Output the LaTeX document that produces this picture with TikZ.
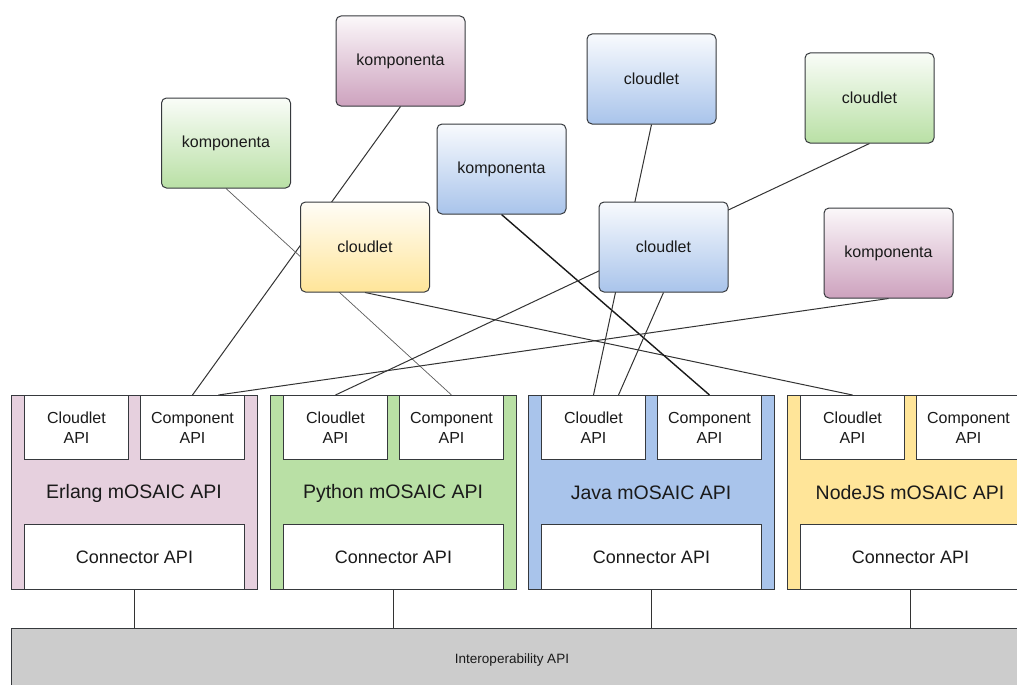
\documentclass[tikz,border=0pt]{standalone}
\usepackage{fontspec}
\setmainfont{Liberation Sans}
\usetikzlibrary{calc}
\pgfdeclarelayer{bg}
\pgfsetlayers{bg,main}
\definecolor{edge}{HTML}{36393D}
\definecolor{txt}{HTML}{1A1A1A}
\definecolor{erl}{HTML}{E6D0DE}
\definecolor{pyg}{HTML}{B9E0A5}
\definecolor{jav}{HTML}{A9C4EB}
\definecolor{njs}{HTML}{FFE599}
\definecolor{purp}{HTML}{CDA2BE}
\definecolor{iop}{HTML}{CCCCCC}
\definecolor{wire}{HTML}{333333}
\begin{document}
\begin{tikzpicture}[x=1pt,y=-1pt,
  topbox/.style={draw=edge, line width=1pt, rounded corners=5pt,
    minimum width=129pt, minimum height=90pt, inner sep=0pt,
    font=\fontsize{16}{19}\selectfont, text=txt,
    top color=#1!8, bottom color=#1},
  apibox/.style={draw=edge, fill=white, line width=1pt, anchor=north west,
    minimum width=104pt, minimum height=64pt, inner sep=0pt, align=center,
    font=\fontsize{16}{20}\selectfont, text=txt},
  connbox/.style={draw=edge, fill=white, line width=1pt, anchor=north west,
    minimum width=220pt, minimum height=65pt, inner sep=0pt,
    font=\fontsize{18}{21}\selectfont, text=txt},
  langbox/.style={draw=edge, fill=#1, line width=1pt, anchor=north west,
    minimum width=246pt, minimum height=194pt, inner sep=0pt},
  langlabel/.style={font=\fontsize{19.5}{23}\selectfont, text=txt, inner sep=0pt},
  wireline/.style={draw=wire, line width=1pt},
  thinwire/.style={draw=wire!80, line width=0.7pt},
  thickwire/.style={draw=black!90, line width=1.4pt}
]
\useasboundingbox (0,0) rectangle (1017,685);
\clip (0,0) rectangle (1017,685);

% interoperability layer
\node[draw=edge, fill=iop, line width=1pt, anchor=north west,
  minimum width=1040pt, minimum height=64pt, inner sep=0pt] (interop) at (11,628) {};
\node[font=\fontsize{13.5}{16}\selectfont, text=txt] (interoplabel) at (512,660) {Interoperability API};

% language stacks
\foreach \n/\L/\lang/\col in {e/11/Erlang/erl, p/270/Python/pyg, j/528/Java/jav, n/787/NodeJS/njs}{
  \node[langbox=\col] (\n-outer) at (\L,395) {};
  \node[apibox] (\n-cloud) at ({\L+13},395) {Cloudlet\\API};
  \node[apibox] (\n-comp) at ({\L+129},395) {Component\\API};
  \node[connbox] (\n-conn) at ({\L+13},524) {Connector API};
  \node[langlabel] (\n-label) at ({\L+123},493) {\lang{} mOSAIC API};
  \draw[wireline] (\n-conn.south) -- (\n-conn.south |- interop.north);
}

% top components and cloudlets
\node[topbox=pyg]  (kg)  at (226,143)   {komponenta};
\node[topbox=purp] (kp1) at (400.5,61)  {komponenta};
\node[topbox=njs]  (cy)  at (365,247)   {cloudlet};
\node[topbox=jav]  (kb)  at (501.5,169) {komponenta};
\node[topbox=jav]  (cb1) at (651.5,79)  {cloudlet};
\node[topbox=jav]  (cb2) at (663.5,247) {cloudlet};
\node[topbox=pyg]  (cg)  at (869.5,98)  {cloudlet};
\node[topbox=purp] (kp2) at (888.5,253) {komponenta};

\begin{pgfonlayer}{bg}
  \draw[wireline]  (kp1.south) -- (e-comp.north);
  \draw[thinwire]  (kg.south)  -- (p-comp.north);
  \draw[wireline]  (cy.south)  -- (n-cloud.north);
  \draw[thickwire] (kb.south)  -- (j-comp.north);
  \draw[wireline]  (cb1.south) -- (j-cloud.north);
  \draw[wireline]  (cg.south)  -- (p-cloud.north);
  \draw[wireline]  (cb2.south) -- ([xshift=25pt]j-cloud.north);
  \draw[wireline]  (kp2.south) -- ([xshift=26pt]e-comp.north);
\end{pgfonlayer}
\end{tikzpicture}
\end{document}
